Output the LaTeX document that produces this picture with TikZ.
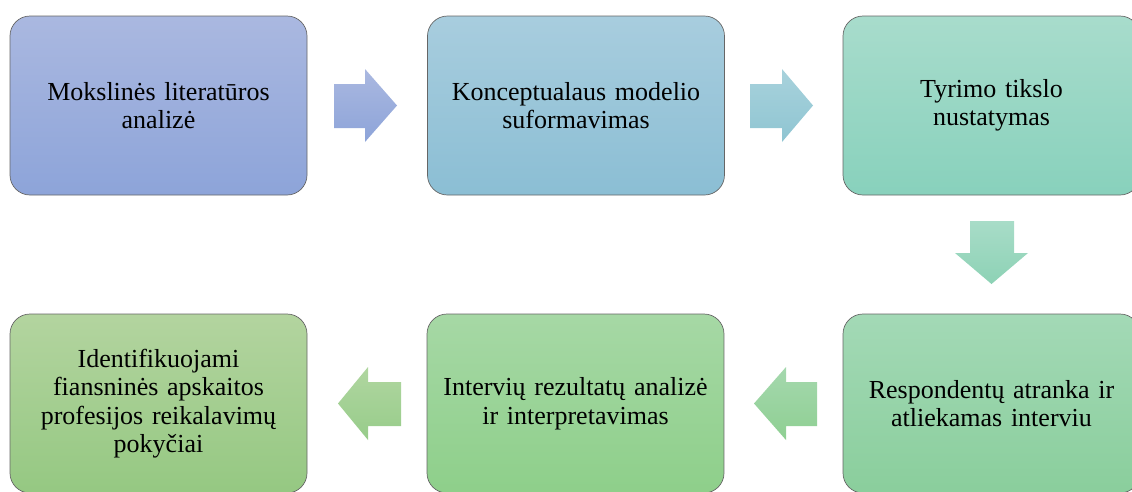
\documentclass[tikz,border=0pt]{standalone}
\usepackage{fontspec}
\setmainfont{Liberation Serif}
\begin{document}
\begin{tikzpicture}[x=1pt,y=-1pt,
  stage/.style={draw=black!60, line width=0.7pt, rounded corners=20pt,
    minimum width=297pt, minimum height=179pt, inner sep=0pt,
    align=center, text width=285pt,
    font=\fontsize{26}{28.5}\selectfont},
  blockarrow/.style={line width=0pt}
]
\useasboundingbox (0,0) rectangle (1132,491);
\begin{scope}
\clip (0,0) rectangle (1132,491);
\node[stage, top color={rgb,255:red,170;green,184;blue,224}, bottom color={rgb,255:red,141;green,164;blue,217}] (b1) at (158.5,105.5) {Mokslinės literatūros\\analizė};
\node[stage, top color={rgb,255:red,168;green,205;blue,222}, bottom color={rgb,255:red,139;green,190;blue,212}] (b2) at (576,105.5) {Konceptualaus modelio\\suformavimas};
\node[stage, top color={rgb,255:red,168;green,220;blue,204}, bottom color={rgb,255:red,136;green,209;blue,188}] (b3) at (991.5,105.5) {Tyrimo tikslo\\nustatymas};
\node[stage, top color={rgb,255:red,163;green,217;blue,182}, bottom color={rgb,255:red,138;green,206;blue,156}] (b4) at (991.5,403.5) {Respondentų atranka ir\\atliekamas interviu};
\node[stage, top color={rgb,255:red,166;green,216;blue,165}, bottom color={rgb,255:red,142;green,207;blue,138}] (b5) at (575.5,403.5) {Intervių rezultatų analizė\\ir interpretavimas};
\node[stage, top color={rgb,255:red,179;green,212;blue,159}, bottom color={rgb,255:red,149;green,200;blue,130}] (b6) at (158.5,403.5) {Identifikuojami\\fiansninės apskaitos\\profesijos reikalavimų\\pokyčiai};
\end{scope}
% block arrows
\shade[blockarrow, top color={rgb,255:red,170;green,184;blue,224}, bottom color={rgb,255:red,141;green,164;blue,217}]
  (334,84) -- (365,84) -- (365,69) -- (397,105.5) -- (365,142) -- (365,128) -- (334,128) -- cycle;
\shade[blockarrow, top color={rgb,255:red,168;green,210;blue,220}, bottom color={rgb,255:red,143;green,197;blue,210}]
  (750,84) -- (782,84) -- (782,69) -- (813,105.5) -- (782,142) -- (782,128) -- (750,128) -- cycle;
\shade[blockarrow, top color={rgb,255:red,168;green,220;blue,200}, bottom color={rgb,255:red,141;green,210;blue,181}]
  (970,221) -- (1014,221) -- (1014,253) -- (1028,253) -- (991.5,284) -- (955,253) -- (970,253) -- cycle;
\shade[blockarrow, top color={rgb,255:red,165;green,216;blue,174}, bottom color={rgb,255:red,142;green,207;blue,146}]
  (817,382) -- (786,382) -- (786,367) -- (754,403.5) -- (786,440) -- (786,426) -- (817,426) -- cycle;
\shade[blockarrow, top color={rgb,255:red,176;green,214;blue,160}, bottom color={rgb,255:red,151;green,204;blue,138}]
  (401,382) -- (368,382) -- (368,367) -- (338,403.5) -- (368,440) -- (368,426) -- (401,426) -- cycle;
\end{tikzpicture}
\end{document}
